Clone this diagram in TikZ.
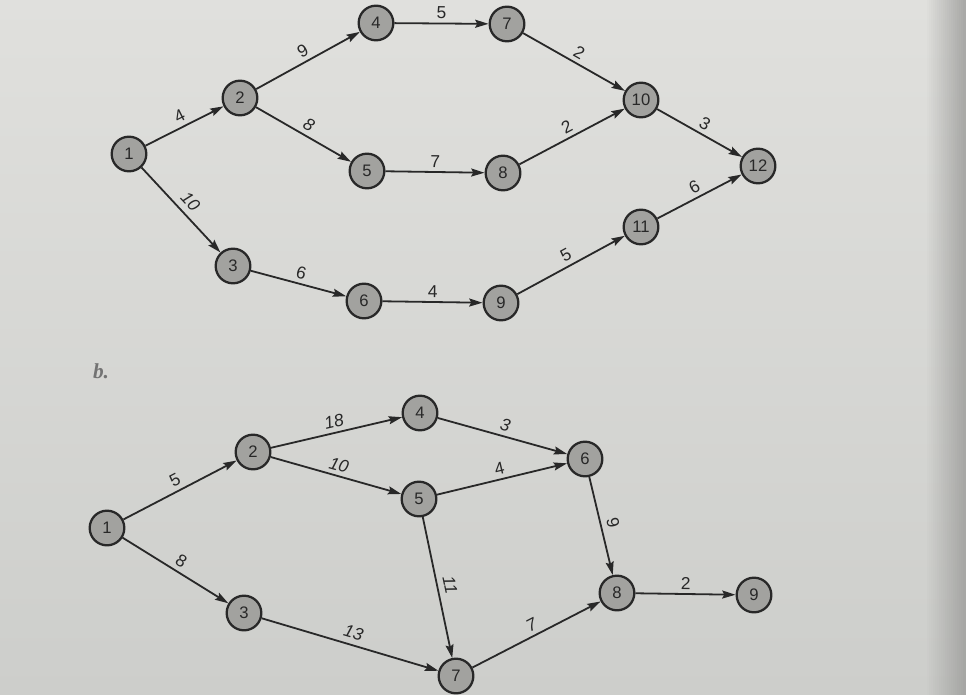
\documentclass[tikz,border=0pt]{standalone}
\usepackage{fontspec}
\setmainfont{Liberation Sans}
\newfontfamily\serifb{Liberation Serif}
\usetikzlibrary{arrows.meta}
\definecolor{paperlt}{RGB}{224,224,221}
\definecolor{paperdk}{RGB}{205,206,203}
\definecolor{edgedk}{RGB}{160,160,158}
\definecolor{nodefill}{RGB}{162,162,159}
\definecolor{ink}{RGB}{40,40,40}
\begin{document}
\begin{tikzpicture}[x=0.75pt,y=-0.75pt,
  ev/.style={circle,draw=ink,line width=1.7pt,fill=nodefill,minimum size=26pt,inner sep=0pt,font=\fontsize{12.5}{12.5}\selectfont,text=ink},
  act/.style={draw=ink,line width=1.35pt,-{Stealth[length=10pt,width=6pt,inset=1.5pt]}},
  lab/.style={midway,above,sloped,font=\fontsize{13}{13}\selectfont,text=ink,inner sep=3pt},
  labi/.style={lab,font=\fontsize{13}{13}\selectfont\itshape}]
\shade[top color=paperlt,bottom color=paperdk] (0,0) rectangle (966,695);
\foreach \i in {0,...,19}
  \fill[edgedk,opacity={0.85*\i/19}] ({925+2*\i},0) rectangle ({927.3+2*\i},695);
\fill[edgedk,opacity=0.85] (965,0) rectangle (966,695);
\useasboundingbox (0,0) rectangle (966,695);
% ---- diagram a ----
\node[ev] (a1) at (129,154) {1};
\node[ev] (a2) at (240,98) {2};
\node[ev] (a3) at (233,266) {3};
\node[ev] (a4) at (376,23) {4};
\node[ev] (a5) at (367,171) {5};
\node[ev] (a6) at (364,301) {6};
\node[ev] (a7) at (507,24) {7};
\node[ev] (a8) at (503,173) {8};
\node[ev] (a9) at (501,303) {9};
\node[ev] (a10) at (641,100) {10};
\node[ev] (a11) at (641,227) {11};
\node[ev] (a12) at (758,166) {12};
\draw[act] (a1) -- node[labi,inner sep=4.5pt]{10} (a3);
\draw[act] (a1) -- node[lab]{4} (a2);
\draw[act] (a2) -- node[lab]{9} (a4);
\draw[act] (a2) -- node[labi]{8} (a5);
\draw[act] (a3) -- node[lab]{6} (a6);
\draw[act] (a4) -- node[lab]{5} (a7);
\draw[act] (a5) -- node[lab]{7} (a8);
\draw[act] (a6) -- node[lab]{4} (a9);
\draw[act] (a7) -- node[lab]{2} (a10);
\draw[act] (a8) -- node[lab]{2} (a10);
\draw[act] (a9) -- node[lab]{5} (a11);
\draw[act] (a10) -- node[lab]{3} (a12);
\draw[act] (a11) -- node[lab]{6} (a12);
% ---- diagram b ----
\node[font=\serifb\fontsize{16}{16}\selectfont\bfseries\itshape,text=black!55] (blab) at (101,371) {b.};
\node[ev] (b1) at (107,528) {1};
\node[ev] (b2) at (253,452) {2};
\node[ev] (b3) at (244,613) {3};
\node[ev] (b4) at (420,413) {4};
\node[ev] (b5) at (419,499) {5};
\node[ev] (b6) at (585,459) {6};
\node[ev] (b7) at (456,676) {7};
\node[ev] (b8) at (617,593) {8};
\node[ev] (b9) at (754,595) {9};
\draw[act] (b1) -- node[lab]{5} (b2);
\draw[act] (b1) -- node[lab]{8} (b3);
\draw[act] (b2) -- node[labi]{18} (b4);
\draw[act] (b2) -- node[labi]{10} (b5);
\draw[act] (b3) -- node[labi,inner sep=4pt]{13} (b7);
\draw[act] (b4) -- node[labi]{3} (b6);
\draw[act] (b5) -- node[lab]{4} (b6);
\draw[act] (b5) -- node[labi,inner sep=4.5pt]{11} (b7);
\draw[act] (b6) -- node[lab,inner sep=4pt]{9} (b8);
\draw[act] (b7) -- node[labi]{7} (b8);
\draw[act] (b8) -- node[lab]{2} (b9);
\end{tikzpicture}
\end{document}
